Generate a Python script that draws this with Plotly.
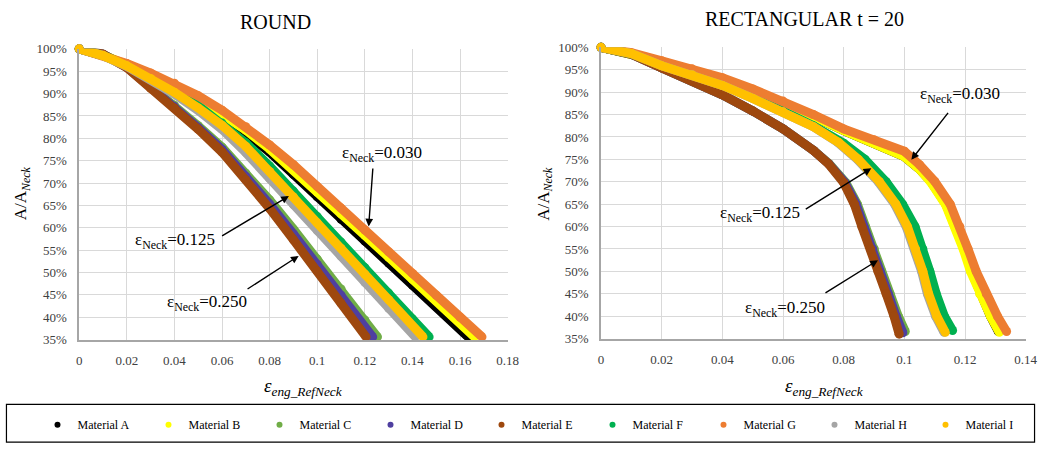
import plotly.graph_objects as go

# ---------------- DATA ----------------
materials = ["Material A", "Material B", "Material C", "Material D", "Material E",
             "Material F", "Material G", "Material H", "Material I"]
colors = ["#000000", "#ffff00", "#70ad47", "#4f3fa0", "#9e480e",
          "#00b050", "#ed7d31", "#a5a5a5", "#ffc000"]

round_xticks = [0, 0.02, 0.04, 0.06, 0.08, 0.1, 0.12, 0.14, 0.16, 0.18]
round_xticklabels = ["0", "0.02", "0.04", "0.06", "0.08", "0.1", "0.12", "0.14", "0.16", "0.18"]
rect_xticks = [0, 0.02, 0.04, 0.06, 0.08, 0.1, 0.12, 0.14]
rect_xticklabels = ["0", "0.02", "0.04", "0.06", "0.08", "0.1", "0.12", "0.14"]
yticks = [35, 40, 45, 50, 55, 60, 65, 70, 75, 80, 85, 90, 95, 100]
yticklabels = ["35%", "40%", "45%", "50%", "55%", "60%", "65%", "70%", "75%", "80%",
               "85%", "90%", "95%", "100%"]

# ROUND (strain, A/A_neck in %)
round_A_x = [0, .01, .02, .03, .04, .05, .06, .07, .08, .09, .10, .11, .12, .13, .14, .15, .1633]
round_A_y = [100, 98.5, 96.4, 94.0, 91.4, 88.4, 84.9, 81.1, 76.9, 71.9, 66.9, 61.9, 57.0, 52.1, 47.2, 42.3, 35.6]
round_B_x = [0, .01, .02, .03, .04, .05, .06, .07, .08, .09, .10, .11, .12, .13, .14, .15, .166]
round_B_y = [100, 98.6, 96.5, 94.2, 91.7, 88.8, 85.5, 81.8, 77.6, 72.9, 68.0, 63.1, 58.3, 53.4, 48.5, 43.7, 35.6]
round_C_x = [0, .01, .02, .03, .04, .05, .06, .07, .08, .09, .10, .11, .12, .1253]
round_C_y = [100, 98.8, 96.0, 91.7, 87.4, 82.8, 78.0, 72.2, 66.2, 59.7, 53.0, 46.3, 39.4, 35.6]
round_D_x = [0, .01, .02, .03, .04, .05, .06, .07, .08, .09, .10, .11, .1233]
round_D_y = [100, 98.8, 95.9, 91.5, 87.1, 82.4, 77.5, 71.5, 65.3, 58.6, 51.8, 44.9, 35.6]
round_E_x = [0, .01, .02, .03, .04, .05, .06, .07, .08, .09, .10, .11, .1205]
round_E_y = [100, 98.8, 95.8, 91.2, 86.8, 82.0, 76.9, 70.7, 64.3, 57.3, 50.3, 43.1, 35.6]
round_F_x = [0, .01, .02, .03, .04, .05, .06, .07, .08, .09, .10, .11, .12, .13, .14, .147]
round_F_y = [100, 98.5, 96.3, 93.7, 90.7, 87.3, 83.4, 79.0, 73.8, 68.2, 62.5, 56.8, 51.1, 45.4, 39.6, 35.6]
round_G_x = [0, .01, .02, .03, .04, .05, .06, .07, .08, .09, .10, .11, .12, .13, .14, .15, .16, .1692]
round_G_y = [100, 98.6, 96.7, 94.6, 92.3, 89.5, 86.3, 82.6, 78.5, 74.1, 69.2, 64.4, 59.5, 54.6, 49.8, 44.9, 40.0, 35.6]
round_H_x = [0, .01, .02, .03, .04, .05, .06, .07, .08, .09, .10, .11, .12, .13, .1412]
round_H_y = [100, 98.5, 96.1, 93.2, 89.9, 86.2, 82.0, 76.8, 71.0, 65.2, 59.4, 53.6, 47.8, 42.0, 35.6]
round_I_x = [0, .01, .02, .03, .04, .05, .06, .07, .08, .09, .10, .11, .12, .13, .1444]
round_I_y = [100, 98.5, 96.2, 93.4, 90.3, 86.8, 82.9, 78.2, 72.6, 66.9, 61.1, 55.4, 49.6, 43.9, 35.6]

# RECTANGULAR t = 20
rect_A_x = [0, .02, .04, .06, .07, .08, .09, .10, .105, .1088, .1137, .1170, .1197, .1221, .1250, .1284, .1310]
rect_A_y = [100, 96.8, 92.8, 87.6, 84.6, 81.4, 78.6, 75.6, 72.8, 70.0, 65.0, 60.0, 55.0, 50.0, 45.0, 40.0, 36.6]
rect_B_x = [0, .02, .04, .06, .07, .08, .09, .10, .105, .1086, .1135, .1167, .1194, .1218, .1248, .1284, .1313]
rect_B_y = [100, 96.8, 92.8, 87.6, 84.6, 81.4, 78.6, 75.6, 72.8, 70.0, 65.0, 60.0, 55.0, 50.0, 45.0, 40.0, 36.4]
rect_C_x = [0, .01, .02, .03, .04, .05, .06, .07, .0752, .0807, .0845, .0872, .0901, .0925, .0953, .0980, .1003]
rect_C_y = [100, 98.5, 95.4, 92.5, 89.4, 85.8, 81.8, 77.0, 74.0, 69.8, 65.0, 60.0, 55.0, 50.0, 45.0, 40.0, 36.6]
rect_D_x = [0, .01, .02, .03, .04, .05, .06, .07, .0751, .0804, .0841, .0867, .0896, .0920, .0947, .0973, .0995]
rect_D_y = [100, 98.5, 95.4, 92.5, 89.4, 85.8, 81.8, 77.0, 74.0, 69.8, 65.0, 60.0, 55.0, 50.0, 45.0, 40.0, 36.3]
rect_E_x = [0, .01, .02, .03, .04, .05, .06, .07, .075, .08, .0835, .086, .0889, .0913, .094, .0966, .0983]
rect_E_y = [100, 98.5, 95.4, 92.5, 89.4, 85.8, 81.8, 77.0, 74.0, 69.8, 65.0, 60.0, 55.0, 50.0, 45.0, 40.0, 36.0]
rect_F_x = [0, .01, .02, .03, .04, .05, .06, .07, .08, .087, .094, .0994, .1035, .1061, .1084, .1105, .1132, .1159]
rect_F_y = [100, 98.6, 96.0, 94.0, 91.8, 89.0, 86.0, 82.5, 78.6, 75.0, 70.0, 65.0, 60.0, 55.0, 50.0, 45.0, 40.0, 36.8]
rect_G_x = [0, .01, .02, .03, .04, .05, .06, .07, .08, .09, .10, .105, .11, .1151, .1183, .121, .1237, .127, .1307, .1337]
rect_G_y = [100, 98.8, 97.0, 95.2, 93.2, 90.7, 88.0, 85.0, 81.8, 79.4, 76.8, 73.8, 70.1, 65.0, 60.0, 55.0, 50.0, 45.0, 40.0, 36.6]
rect_H_x = [0, .01, .02, .03, .04, .05, .06, .07, .0780, .0845, .0914, .0968, .1006, .1033, .1057, .1076, .1103, .1131]
rect_H_y = [100, 98.6, 95.9, 93.9, 91.5, 88.6, 85.6, 82.3, 78.8, 75.0, 70.0, 65.0, 60.0, 55.0, 50.0, 45.0, 40.0, 36.4]
rect_I_x = [0, .01, .02, .03, .04, .05, .06, .07, .0783, .0848, .0918, .0972, .1010, .1037, .1061, .1080, .1107, .1135]
rect_I_y = [100, 98.6, 95.9, 93.9, 91.5, 88.6, 85.6, 82.3, 78.8, 75.0, 70.0, 65.0, 60.0, 55.0, 50.0, 45.0, 40.0, 36.4]

round_series = [(round_A_x, round_A_y), (round_B_x, round_B_y), (round_C_x, round_C_y),
                (round_D_x, round_D_y), (round_E_x, round_E_y), (round_F_x, round_F_y),
                (round_G_x, round_G_y), (round_H_x, round_H_y), (round_I_x, round_I_y)]
rect_series = [(rect_A_x, rect_A_y), (rect_B_x, rect_B_y), (rect_C_x, rect_C_y),
               (rect_D_x, rect_D_y), (rect_E_x, rect_E_y), (rect_F_x, rect_F_y),
               (rect_G_x, rect_G_y), (rect_H_x, rect_H_y), (rect_I_x, rect_I_y)]

# ---------------- FIGURE ----------------
W, H = 1050, 452
SERIF = "Liberation Serif"
LW = 9

fig = go.Figure()

for (xs, ys), col, name in zip(round_series, colors, materials):
    fig.add_trace(go.Scatter(x=xs, y=ys, mode="lines+markers", name=name,
                             line=dict(color=col, width=LW),
                             marker=dict(color=col, size=LW),
                             cliponaxis=False, showlegend=False, xaxis="x", yaxis="y"))
for (xs, ys), col, name in zip(rect_series, colors, materials):
    fig.add_trace(go.Scatter(x=xs, y=ys, mode="lines+markers", name=name,
                             line=dict(color=col, width=LW),
                             marker=dict(color=col, size=LW),
                             cliponaxis=False, showlegend=False, xaxis="x2", yaxis="y2"))
# legend entries
for col, name in zip(colors, materials):
    fig.add_trace(go.Scatter(x=[None], y=[None], mode="markers", name=name,
                             marker=dict(color=col, size=6), showlegend=True,
                             xaxis="x", yaxis="y"))

def px_x(p):
    return p / W

def px_y(p):
    return 1 - p / H

axis_common = dict(showgrid=True, gridcolor="#d9d9d9", gridwidth=1, zeroline=False,
                   showline=True, linecolor="#a6a6a6", linewidth=1.5,
                   ticks="outside", tickcolor="rgba(0,0,0,0)",
                   tickfont=dict(family=SERIF, size=13, color="#404040"))

fig.update_layout(
    width=W, height=H, margin=dict(l=0, r=0, t=0, b=0),
    paper_bgcolor="white", plot_bgcolor="white",
    xaxis=dict(domain=[px_x(77.3), px_x(512)], range=[0, 0.18], anchor="y",
               tickvals=round_xticks, ticktext=round_xticklabels, ticklen=8, **axis_common),
    yaxis=dict(domain=[px_y(344), px_y(43.3)], range=[35, 100], anchor="x",
               tickvals=yticks, ticktext=yticklabels, ticklen=8, **axis_common),
    xaxis2=dict(domain=[px_x(606.7), px_x(1037.5)], range=[0, 0.14], anchor="y2",
                tickvals=rect_xticks, ticktext=rect_xticklabels, ticklen=8, **axis_common),
    yaxis2=dict(domain=[px_y(343), px_y(41.7)], range=[35, 100], anchor="x2",
                tickvals=yticks, ticktext=yticklabels, ticklen=8, **axis_common),
    legend=dict(orientation="h", x=px_x(35), y=px_y(432), xanchor="left", yanchor="middle",
                font=dict(family=SERIF, size=12, color="#000000"),
                entrywidth=66, entrywidthmode="pixels", bgcolor="rgba(0,0,0,0)",
                itemwidth=30),
    showlegend=True,
)

# legend frame
fig.add_shape(type="rect", xref="paper", yref="paper",
              x0=px_x(3.5), x1=px_x(1046.5), y0=px_y(450), y1=px_y(411),
              line=dict(color="#000000", width=1.2), fillcolor="rgba(0,0,0,0)")

ann = []
# titles
ann.append(dict(text="ROUND", x=px_x(276.7), y=px_y(15.5), xref="paper", yref="paper",
                showarrow=False, xanchor="center", yanchor="middle",
                font=dict(family=SERIF, size=20, color="#000000")))
ann.append(dict(text="RECTANGULAR t = 20", x=px_x(813), y=px_y(12), xref="paper", yref="paper",
                showarrow=False, xanchor="center", yanchor="middle",
                font=dict(family=SERIF, size=20, color="#000000")))
# y titles
for xp in (19, 549):
    ann.append(dict(text="A/A<sub><i>Neck</i></sub>", x=px_x(xp), y=px_y(193), xref="paper", yref="paper",
                    showarrow=False, textangle=-90, xanchor="center", yanchor="middle",
                    font=dict(family=SERIF, size=17, color="#000000")))
# x titles
for xp in (305, 833):
    ann.append(dict(text="<i>ε</i><sub><i>eng_RefNeck</i></sub>", x=px_x(xp), y=px_y(393),
                    xref="paper", yref="paper", showarrow=False, xanchor="center", yanchor="middle",
                    font=dict(family=SERIF, size=19, color="#000000")))

# callouts: (axis suffix, text, text_x, text_y, tail_x, tail_y, tip_x, tip_y) in data units
callouts = [
    ("", "0.030", 0.127, 76.6, 0.1234, 73.6, 0.1216, 60.3),
    ("", "0.125", 0.0402, 57.0, 0.0594, 58.0, 0.0881, 67.1),
    ("", "0.250", 0.0535, 43.2, 0.0701, 46.1, 0.0922, 53.7),
    ("2", "0.030", 0.1184, 89.4, 0.1148, 85.7, 0.1023, 74.9),
    ("2", "0.125", 0.0524, 62.8, 0.067, 63.7, 0.0891, 73.0),
    ("2", "0.250", 0.0607, 41.7, 0.0735, 45.0, 0.0913, 52.5),
]
for ax_s, val, tx, ty, ax0, ay0, x1, y1 in callouts:
    xr, yr = "x" + ax_s, "y" + ax_s
    ann.append(dict(text="ε<sub>Neck</sub>=" + val, x=tx, y=ty, xref=xr, yref=yr,
                    showarrow=False, xanchor="center", yanchor="middle",
                    font=dict(family=SERIF, size=17, color="#000000")))
    ann.append(dict(text="", x=x1, y=y1, xref=xr, yref=yr, ax=ax0, ay=ay0,
                    axref=xr, ayref=yr, showarrow=True, arrowhead=2, arrowsize=1.1,
                    arrowwidth=1.4, arrowcolor="#000000"))

fig.update_layout(annotations=ann)
fig.write_html("out.html")
